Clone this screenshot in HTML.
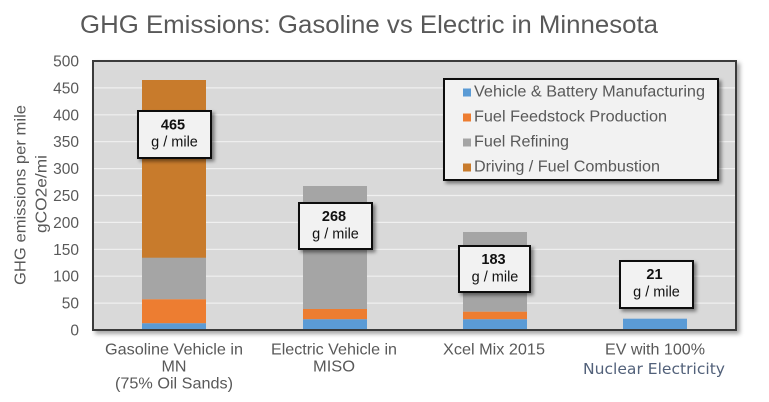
<!DOCTYPE html>
<html><head><meta charset="utf-8"><style>
html,body{margin:0;padding:0;background:#fff;}
svg{display:block;}
text{font-family:"Liberation Sans",Arial,sans-serif;}
</style></head><body>
<svg width="769" height="402" viewBox="0 0 769 402" xmlns="http://www.w3.org/2000/svg">
<defs>
<filter id="sh" x="-10%" y="-10%" width="130%" height="140%">
<feDropShadow dx="2.5" dy="2.5" stdDeviation="1.8" flood-color="#000" flood-opacity="0.45"/>
</filter>
<filter id="sh2" x="-5%" y="-5%" width="110%" height="110%">
<feDropShadow dx="3" dy="3" stdDeviation="2" flood-color="#000" flood-opacity="0.35"/>
</filter>
</defs>
<rect width="769" height="402" fill="#fff"/>
<text x="80" y="33" font-size="25" fill="#595959" textLength="578" lengthAdjust="spacingAndGlyphs">GHG Emissions: Gasoline vs Electric in Minnesota</text>

<!-- plot area -->
<rect x="93" y="61" width="643" height="269" fill="#d9d9d9" stroke="#3a3a3a" stroke-width="2" filter="url(#sh2)"/>
<g stroke="#f0f0f0" stroke-width="1.2">
<line x1="94" x2="735" y1="303.1" y2="303.1"/>
<line x1="94" x2="735" y1="276.2" y2="276.2"/>
<line x1="94" x2="735" y1="249.3" y2="249.3"/>
<line x1="94" x2="735" y1="222.4" y2="222.4"/>
<line x1="94" x2="735" y1="195.5" y2="195.5"/>
<line x1="94" x2="735" y1="168.6" y2="168.6"/>
<line x1="94" x2="735" y1="141.7" y2="141.7"/>
<line x1="94" x2="735" y1="114.8" y2="114.8"/>
<line x1="94" x2="735" y1="87.9" y2="87.9"/>
</g>

<!-- bars -->
<rect x="142" y="80" width="64" height="178" fill="#c87b2c"/>
<rect x="142" y="257.7" width="64" height="41.6" fill="#a5a5a5"/>
<rect x="142" y="299.3" width="64" height="24" fill="#ed7d31"/>
<rect x="142" y="323.3" width="64" height="6.7" fill="#5b9bd5"/>

<rect x="303" y="186" width="64" height="123" fill="#a5a5a5"/>
<rect x="303" y="309" width="64" height="10.3" fill="#ed7d31"/>
<rect x="303" y="319.3" width="64" height="10.7" fill="#5b9bd5"/>

<rect x="463" y="232" width="64" height="79.7" fill="#a5a5a5"/>
<rect x="463" y="311.7" width="64" height="7.6" fill="#ed7d31"/>
<rect x="463" y="319.3" width="64" height="10.7" fill="#5b9bd5"/>

<rect x="623" y="318.7" width="64" height="11.3" fill="#5b9bd5"/>

<line x1="93" x2="736" y1="330" y2="330" stroke="#3a3a3a" stroke-width="2"/>

<!-- y ticks -->
<g font-size="15.5" fill="#595959" text-anchor="end">
<text x="79" y="335.5">0</text>
<text x="79" y="308.6">50</text>
<text x="79" y="281.7">100</text>
<text x="79" y="254.8">150</text>
<text x="79" y="227.9">200</text>
<text x="79" y="201">250</text>
<text x="79" y="174.1">300</text>
<text x="79" y="147.2">350</text>
<text x="79" y="120.3">400</text>
<text x="79" y="93.4">450</text>
<text x="79" y="66.5">500</text>
</g>
<g font-size="16" fill="#595959" text-anchor="middle">
<text transform="translate(25.5,195) rotate(-90)" textLength="180" lengthAdjust="spacingAndGlyphs">GHG emissions per mile</text>
<text transform="translate(46.5,194) rotate(-90)" textLength="78" lengthAdjust="spacingAndGlyphs">gCO2e/mi</text>
</g>

<!-- legend -->
<rect x="444" y="79" width="274" height="101" fill="#f2f2f2" stroke="#111" stroke-width="2" filter="url(#sh)"/>
<rect x="463" y="88.5" width="8" height="8" fill="#5b9bd5"/>
<rect x="463" y="113.5" width="8" height="8" fill="#ed7d31"/>
<rect x="463" y="138.5" width="8" height="8" fill="#a5a5a5"/>
<rect x="463" y="163.5" width="8" height="8" fill="#c87b2c"/>
<g font-size="15.5" fill="#595959">
<text x="474" y="96.5" textLength="231" lengthAdjust="spacingAndGlyphs">Vehicle &amp; Battery Manufacturing</text>
<text x="474" y="121.5" textLength="193" lengthAdjust="spacingAndGlyphs">Fuel Feedstock Production</text>
<text x="474" y="146.5" textLength="95" lengthAdjust="spacingAndGlyphs">Fuel Refining</text>
<text x="474" y="171.5" textLength="186" lengthAdjust="spacingAndGlyphs">Driving / Fuel Combustion</text>
</g>

<!-- value boxes -->
<g stroke="#111" stroke-width="2" fill="#f2f2f2" filter="url(#sh)">
<rect x="138" y="111" width="73" height="47"/>
<rect x="299" y="203" width="73" height="46"/>
<rect x="459" y="246" width="71" height="46"/>
<rect x="620" y="261" width="73" height="47"/>
</g>
<g font-size="14.5" fill="#111" text-anchor="middle">
<text x="173" y="129.5" font-weight="bold">465</text>
<text x="174.5" y="146.7">g / mile</text>
<text x="334" y="221" font-weight="bold">268</text>
<text x="335.5" y="238.5">g / mile</text>
<text x="493.5" y="264" font-weight="bold">183</text>
<text x="495" y="281.5">g / mile</text>
<text x="654.5" y="279" font-weight="bold">21</text>
<text x="656.5" y="296.5">g / mile</text>
</g>

<!-- x labels -->
<g font-size="16" fill="#595959" text-anchor="middle">
<text x="174" y="354.5" textLength="138" lengthAdjust="spacingAndGlyphs">Gasoline Vehicle in</text>
<text x="174" y="371.5" textLength="25" lengthAdjust="spacingAndGlyphs">MN</text>
<text x="174" y="388.5" textLength="118" lengthAdjust="spacingAndGlyphs">(75% Oil Sands)</text>
<text x="334" y="354.5" textLength="126" lengthAdjust="spacingAndGlyphs">Electric Vehicle in</text>
<text x="334" y="371.5" textLength="42" lengthAdjust="spacingAndGlyphs">MISO</text>
<text x="494" y="354.5" textLength="102" lengthAdjust="spacingAndGlyphs">Xcel Mix 2015</text>
<text x="655" y="354.5" textLength="100" lengthAdjust="spacingAndGlyphs">EV with 100%</text>
</g>
<text x="654" y="374" font-size="15" fill="#52617a" text-anchor="middle" style="font-family:'DejaVu Sans',sans-serif" textLength="142" lengthAdjust="spacingAndGlyphs">Nuclear Electricity</text>
</svg>
</body></html>
